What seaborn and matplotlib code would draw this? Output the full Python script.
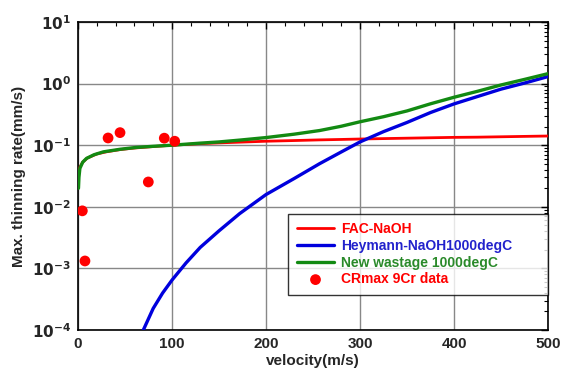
import numpy as np
import pandas as pd
import matplotlib
matplotlib.use("Agg")
import matplotlib.pyplot as plt
import matplotlib.ticker as mticker
import seaborn as sns

# ---- data ----
fac_v = [1, 2, 5, 10, 20, 30, 45, 60, 80, 100, 130, 150, 172, 200, 230, 257, 280, 300,
         325, 350, 375, 400, 425, 450, 475, 500]
fac_rate = [0.038, 0.044, 0.053, 0.062, 0.072, 0.078, 0.085, 0.090, 0.095, 0.100, 0.106, 0.109,
            0.112, 0.116, 0.119, 0.122, 0.124, 0.126, 0.128, 0.130, 0.132, 0.134, 0.135, 0.137,
            0.139, 0.141]

hey_v = [69.5, 80, 90, 100, 115, 130, 150, 172, 200, 230, 257, 280, 300, 325, 350, 375, 400,
         425, 450, 475, 500]
hey_rate = [1.0e-4, 2.24e-4, 3.98e-4, 6.46e-4, 1.23e-3, 2.19e-3, 4.07e-3, 7.76e-3, 0.0158,
            0.0288, 0.0501, 0.0776, 0.113, 0.166, 0.234, 0.339, 0.468, 0.617, 0.813, 1.02, 1.30]

new_v = [0.5, 1, 2, 5, 9, 17, 27, 45, 62, 80, 100, 130, 150, 172, 200, 230, 257, 280, 300,
         325, 350, 375, 400, 425, 450, 475, 500]
new_rate = [0.020, 0.030, 0.042, 0.053, 0.061, 0.070, 0.078, 0.086, 0.092, 0.096, 0.100, 0.108,
            0.113, 0.121, 0.133, 0.151, 0.173, 0.203, 0.240, 0.290, 0.360, 0.470, 0.600, 0.750,
            0.950, 1.170, 1.450]

cr_v = [4.6, 7.4, 32, 44.7, 74.8, 91.8, 102.9]
cr_rate = [0.0086, 0.00132, 0.131, 0.160, 0.0253, 0.130, 0.116]

xticks = [0, 100, 200, 300, 400, 500]
yticks = [1e-4, 1e-3, 1e-2, 1e-1, 1e0, 1e1]

sns.set_style("white")
plt.rcParams['font.family'] = ['Liberation Sans', 'DejaVu Sans']
plt.rcParams['font.weight'] = 'bold'
plt.rcParams['mathtext.default'] = 'bf'

fig = plt.figure(figsize=(5.68, 3.72), dpi=100)
ax = fig.add_axes([78/568, 1-330/372, 470/568, 308/372])

red = "#ff0000"
blue = "#0000dd"
green = "#128a12"

df_fac = pd.DataFrame({"v": fac_v, "r": fac_rate})
df_hey = pd.DataFrame({"v": hey_v, "r": hey_rate})
df_new = pd.DataFrame({"v": new_v, "r": new_rate})
df_cr = pd.DataFrame({"v": cr_v, "r": cr_rate})

sns.lineplot(data=df_fac, x="v", y="r", ax=ax, color=red, lw=2.0, label="FAC-NaOH", zorder=3)
sns.lineplot(data=df_hey, x="v", y="r", ax=ax, color=blue, lw=2.4, label="Heymann-NaOH1000degC", zorder=3)
sns.lineplot(data=df_new, x="v", y="r", ax=ax, color=green, lw=2.4, label="New wastage 1000degC", zorder=4)
sns.scatterplot(data=df_cr, x="v", y="r", ax=ax, color=red, s=60, edgecolor="none",
                label="CRmax 9Cr data", zorder=5)

ax.set_yscale("log")
ax.set_xlim(0, 500)
ax.set_ylim(1e-4, 1e1)
ax.set_xticks(xticks)
ax.set_xticklabels([str(t) for t in xticks])
ax.set_yticks(yticks)
ax.set_yticklabels([r"$10^{%d}$" % int(np.log10(t)) for t in yticks])
ax.xaxis.set_minor_locator(mticker.MultipleLocator(20))
ax.yaxis.set_minor_locator(mticker.LogLocator(base=10, subs=np.arange(2, 10), numticks=20))
ax.yaxis.set_minor_formatter(mticker.NullFormatter())

ax.grid(True, which="major", color="#888888", lw=1.0)
ax.tick_params(which="both", direction="in", top=True, right=True, color="black")
ax.tick_params(which="major", length=5, width=1, labelsize=11, pad=5)
ax.tick_params(which="minor", length=3, width=0.8)
for sp in ax.spines.values():
    sp.set_color("black")
    sp.set_linewidth(1.2)

ax.set_xlabel("velocity(m/s)", fontsize=11, fontweight="bold", labelpad=2)
ax.set_ylabel("Max. thinning rate(mm/s)", fontsize=11, fontweight="bold", labelpad=4)

leg = ax.legend(loc="lower left", bbox_to_anchor=((288-78)/470, (330-295)/308, (548-288)/470, 0.2),
                mode="expand", frameon=True, fancybox=False,
                edgecolor="black", fontsize=10, handlelength=2.7, handletextpad=0.5,
                borderpad=0.63, labelspacing=0.19, borderaxespad=0)
leg.get_frame().set_linewidth(1.0)
leg.set_zorder(10)
cols = [red, "#2222cc", "#2a8a2a", red]
for txt, c in zip(leg.get_texts(), cols):
    txt.set_color(c)
    txt.set_fontweight("bold")

fig.savefig("out.png", dpi=100)
